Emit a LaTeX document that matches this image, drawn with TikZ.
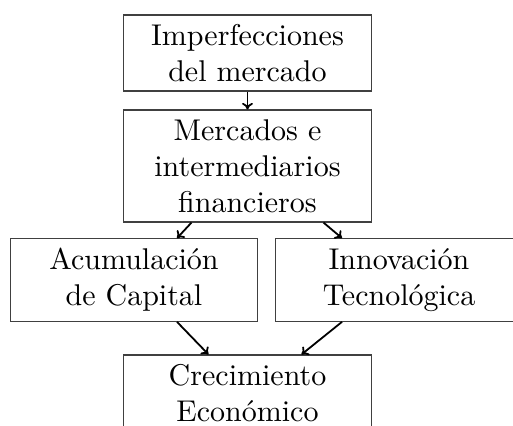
\documentclass[tikz,border=0pt]{standalone}
\usetikzlibrary{calc,arrows.meta}
\begin{document}
\begin{tikzpicture}[x=0.33333pt,y=-0.33333pt,
  box/.style={draw=black!75,line width=0.4pt,inner sep=0pt,align=center,minimum width=82.4pt},
  arr/.style={-{To[length=2.2pt,width=3.6pt]},line width=0.6pt}]
\useasboundingbox (0,0) rectangle (513,425);
\clip (0,0) rectangle (513,425);
\node[box,minimum height=25.3pt] (b1) at (247.5,53) {Imperfecciones\\del mercado};
\node[box,minimum height=37.3pt] (b2) at (247.5,166) {Mercados e\\intermediarios\\financieros};
\node[box,minimum height=27.5pt] (b3) at (134,280) {Acumulación\\de Capital};
\node[box,minimum height=27.5pt] (b4) at (399,280) {Innovación\\Tecnológica};
\node[box,minimum height=25.3pt] (b5) at (247.5,393) {Crecimiento\\Económico};
\draw[arr] (b1.south) -- (b2.north);
\draw[arr] ($(b2.south)+(-56,0)$) -- ($(b3.north)+(43,0)$);
\draw[arr] ($(b2.south)+(76,0)$) -- ($(b4.north)+(-57,0)$);
\draw[arr] ($(b3.south)+(43,0)$) -- ($(b5.north)+(-39,0)$);
\draw[arr] ($(b4.south)+(-57,0)$) -- ($(b5.north)+(54,0)$);
\end{tikzpicture}
\end{document}
